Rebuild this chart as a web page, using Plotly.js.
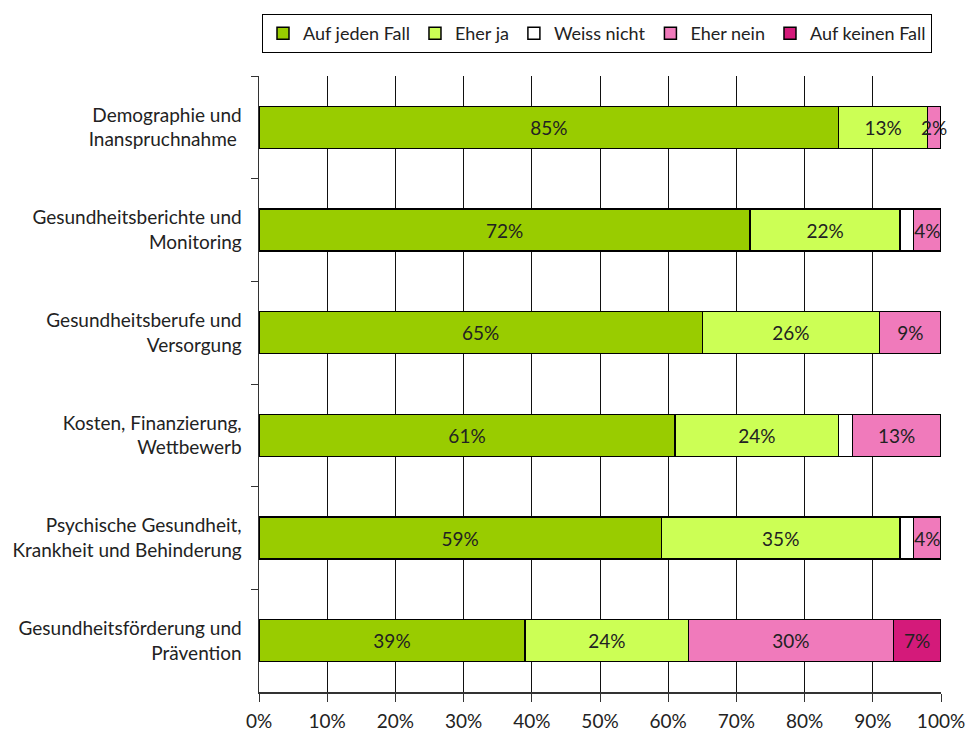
<!DOCTYPE html>
<html><head><meta charset="utf-8">
<script src="https://cdn.plot.ly/plotly-3.0.1.min.js"></script>
<style>body{margin:0;background:#fff}#chart{width:966px;height:736px}</style>
</head><body><div id="chart"></div>
<script>
const categories = [
  "Demographie und<br>Inanspruchnahme ",
  "Gesundheitsberichte und<br>Monitoring",
  "Gesundheitsberufe und<br>Versorgung",
  "Kosten, Finanzierung,<br>Wettbewerb",
  "Psychische Gesundheit,<br>Krankheit und Behinderung",
  "Gesundheitsförderung und<br>Prävention"
];
const seriesNames = ["Auf jeden Fall", "Eher ja", "Weiss nicht", "Eher nein", "Auf keinen Fall"];
const aufJedenFall = [85, 72, 65, 61, 59, 39];
const eherJa      = [13, 22, 26, 24, 35, 24];
const weissNicht  = [0, 2, 0, 2, 2, 0];
const eherNein    = [2, 4, 9, 13, 4, 30];
const aufKeinenFall = [0, 0, 0, 0, 0, 7];
const showLabels = [true, true, false, true, true];
const colors = ["#99CC00", "#CCFF55", "#FFFFFF", "#F07ABB", "#D41A7A"];

const FONT = "Lato, 'Open Sans', sans-serif";
const allSeries = [aufJedenFall, eherJa, weissNicht, eherNein, aufKeinenFall];
const traces = allSeries.map((vals, i) => ({
  type: "bar",
  orientation: "h",
  name: seriesNames[i],
  y: categories,
  x: vals.map(v => v / 100),
  width: 0.41,
  marker: {color: colors[i], line: {color: "#000", width: 1.5}},
  text: vals.map(v => (showLabels[i] && v > 0) ? v + "%" : ""),
  textposition: "inside",
  insidetextanchor: "middle",
  constraintext: "none",
  textangle: 0,
  textfont: {family: FONT, size: 19, color: "#222"},
  hoverinfo: "skip",
  cliponaxis: false
}));

const layout = {
  width: 966, height: 736,
  barmode: "stack",
  paper_bgcolor: "#fff", plot_bgcolor: "#fff",
  margin: {l: 259, r: 25, t: 76, b: 44, pad: 0, autoexpand: false},
  font: {family: FONT, size: 19, color: "#222"},
  showlegend: true,
  legend: {
    orientation: "h", x: 0.4956, xref: "paper", xanchor: "center",
    y: 1 - 14/736, yref: "container", yanchor: "top",
    bordercolor: "#000", borderwidth: 1, bgcolor: "#fff",
    font: {family: FONT, size: 18, color: "#222"},
    traceorder: "normal", itemwidth: 30, tracegroupgap: 0
  },
  xaxis: {
    range: [0, 1], dtick: 0.1, tick0: 0, tickformat: ".0%",
    showgrid: true, gridcolor: "#111", gridwidth: 1,
    showline: true, linecolor: "#333", linewidth: 1.5,
    ticks: "outside", ticklen: 8, tickcolor: "#333",
    zeroline: false, fixedrange: true, ticklabelstandoff: 4,
    tickfont: {family: FONT, size: 19, color: "#222"}
  },
  yaxis: {
    autorange: "reversed", type: "category",
    showline: true, linecolor: "#333", linewidth: 1.5,
    ticks: "outside", ticklen: 7, tickcolor: "#333", tickson: "boundaries",
    showgrid: false, ticklabelstandoff: 12,
    tickfont: {family: FONT, size: 19, color: "#222"}
  }
};
Plotly.newPlot("chart", traces, layout, {staticPlot: true});
</script></body></html>
